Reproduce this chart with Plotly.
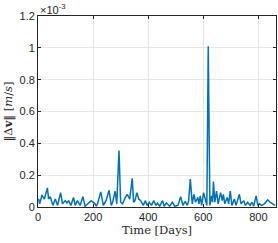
import plotly.graph_objects as go

days = [0, 2.4, 6, 14.5, 23, 34, 38.5, 44.6, 54, 62.7, 71, 82, 89, 99, 105, 111, 119, 129, 135, 143,
        153, 163, 171, 180, 193, 207, 212, 216, 228, 237, 247, 258, 266, 271, 280, 286, 294, 300, 307, 317,
        324, 333, 342, 347, 352, 359, 366, 373, 382, 390, 396, 404, 412, 420, 428, 434, 442, 452, 458,
        466, 478, 488, 496, 508, 518, 526, 534, 542, 547, 553, 560, 566, 572, 580, 584, 589, 594, 601,
        608, 613, 618, 624, 630, 634, 637, 642, 648, 654, 663, 669, 673, 678, 687, 692, 698, 704, 713,
        719, 731, 737, 747, 753, 761, 770, 777, 783, 792, 798, 804, 812, 822, 834, 842, 852, 861]
dv_e3 = [0.045, 0.05, 0.02, 0.075, 0.05, 0.12, 0.05, 0.065, 0.01, 0.05, 0.01, 0.09, 0.02, 0.04, 0.025,
         0.04, 0.01, 0.06, 0.01, 0.04, 0.01, 0.065, 0.005, 0.02, 0.04, 0.02, 0.005, 0.02, 0.095, 0.01,
         0.04, 0.105, 0.01, 0.03, 0.10, 0.02, 0.355, 0.03, 0.02, 0.06, 0.08, 0.05, 0.18, 0.03, 0.04,
         0.09, 0.05, 0.04, 0.01, 0.04, 0.01, 0.03, 0.01, 0.04, 0.01, 0.025, 0.005, 0.04, 0.005, 0.025,
         0.005, 0.03, 0.005, 0.01, 0.065, 0.01, 0.035, 0.01, 0.04, 0.175, 0.02, 0.08, 0.03, 0.06, 0.02,
         0.07, 0.01, 0.09, 0.03, 0.01, 1.01, 0.01, 0.07, 0.03, 0.16, 0.03, 0.10, 0.02, 0.09, 0.04, 0.08,
         0.02, 0.06, 0.02, 0.10, 0.01, 0.05, 0.01, 0.08, 0.02, 0.04, 0.01, 0.03, 0.01, 0.03, 0.005,
         0.07, 0.01, 0.02, 0.01, 0.02, 0.045, 0.03, 0.02, 0.01]
dv = [v * 1e-3 for v in dv_e3]

ytick_vals = [0, 0.2e-3, 0.4e-3, 0.6e-3, 0.8e-3, 1.0e-3, 1.2e-3]
ytick_text = ["0", "0.2", "0.4", "0.6", "0.8", "1", "1.2"]
xtick_vals = [0, 200, 400, 600, 800]

fig = go.Figure()
fig.add_trace(go.Scatter(x=days, y=dv, mode="lines",
                         line=dict(color="#0072BD", width=1.5), showlegend=False))

axis_common = dict(showline=True, linecolor="#262626", linewidth=0.8, mirror="ticks",
                   ticks="inside", ticklen=3, tickcolor="#262626",
                   showgrid=True, gridcolor="#e6e6e6", gridwidth=1, zeroline=False,
                   tickfont=dict(family="Liberation Sans, Arial", size=11, color="#262626"))

fig.update_xaxes(range=[0, 864], tickvals=xtick_vals,
                 title=dict(text="Time [Days]", standoff=2,
                            font=dict(family="DejaVu Serif, Liberation Serif", size=11.5, color="#262626")),
                 **axis_common)
fig.update_yaxes(range=[0, 1.2e-3], tickvals=ytick_vals, ticktext=ytick_text,
                 title=dict(text="‖Δ<b>v</b>‖ [<i>m</i>/<i>s</i>]", standoff=4,
                            font=dict(family="DejaVu Serif, Liberation Serif", size=11.5, color="#262626")),
                 **axis_common)

fig.add_annotation(text="×10<sup>-3</sup>", xref="paper", yref="paper", x=0, y=1.0,
                   xanchor="left", yanchor="bottom", showarrow=False, yshift=-2,
                   font=dict(family="Liberation Sans, Arial", size=11, color="#262626"))

fig.update_layout(width=278, height=243, margin=dict(l=38, r=2, t=16, b=36),
                  plot_bgcolor="white", paper_bgcolor="white")

fig.write_html("out.html", config={"displayModeBar": False},
               post_script="document.body.style.margin='0';document.body.style.overflow='hidden';")
